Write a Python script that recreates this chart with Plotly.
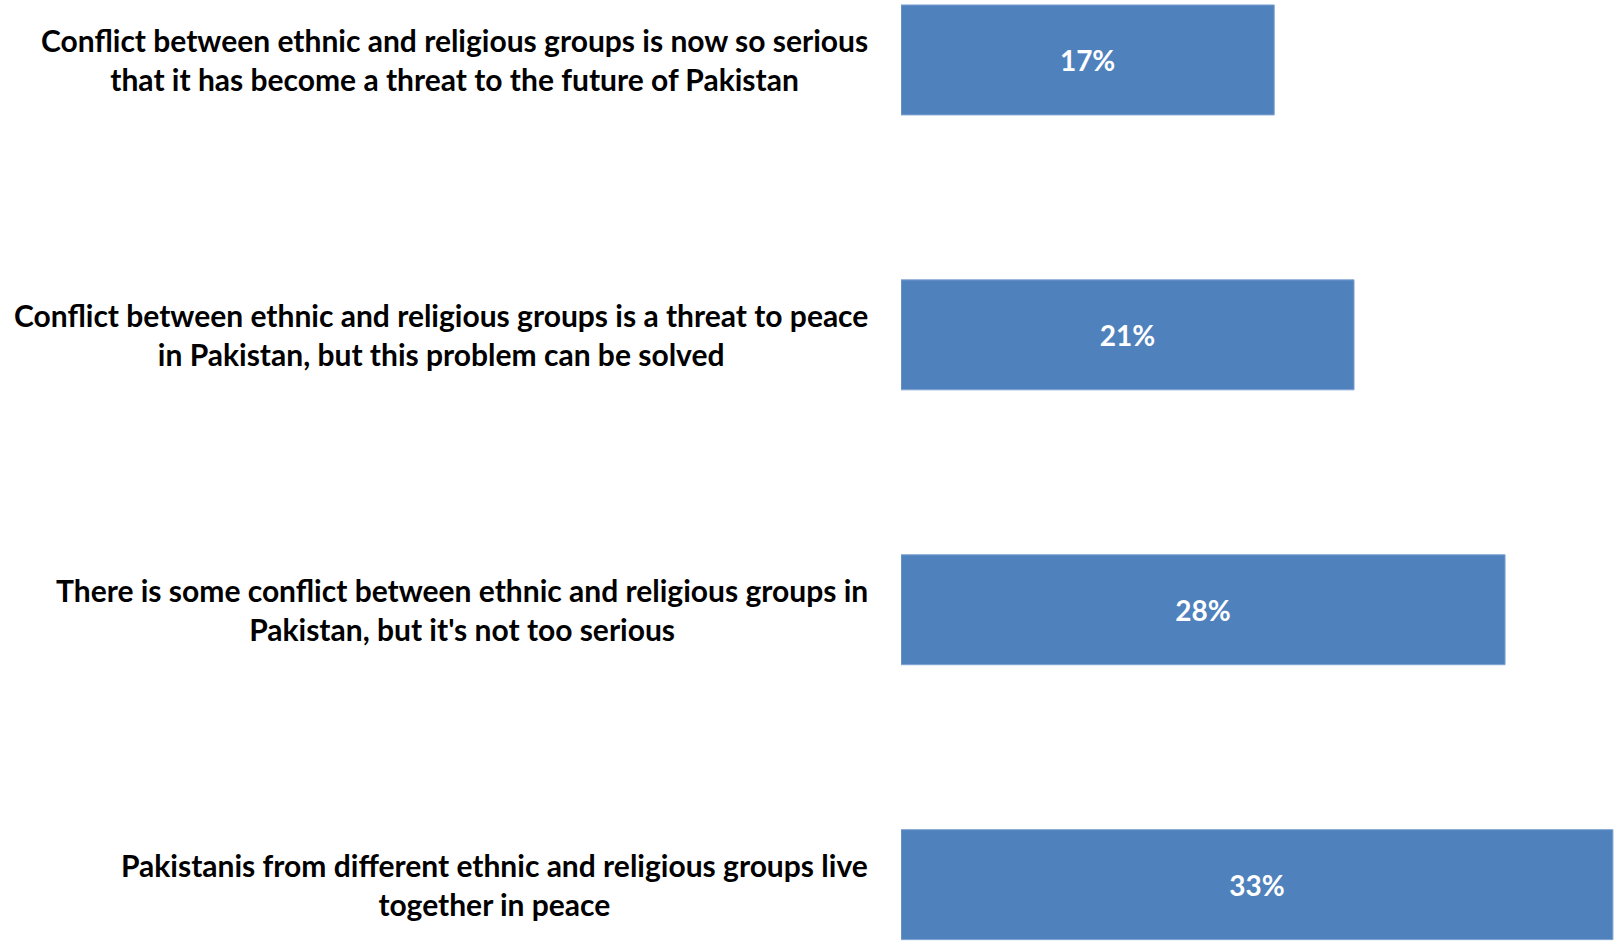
import plotly.graph_objects as go

categories = [
    "Conflict between ethnic and religious groups is now so serious<br>that it has become a threat to the future of Pakistan",
    "Conflict between ethnic and religious groups is a threat to peace<br>in Pakistan, but this problem can be solved",
    "There is some conflict between ethnic and religious groups in<br>Pakistan, but it's not too serious",
    "Pakistanis from different ethnic and religious groups live<br>together in peace",
]
values = [17.3, 21, 28, 33]
labels = ["17%", "21%", "28%", "33%"]

BAR_COLOR = "#4F81BD"
FONT = "Lato"

ids = [f"c{i}" for i in range(len(categories))]

fig = go.Figure(
    go.Bar(
        x=values,
        y=ids,
        orientation="h",
        marker=dict(color=BAR_COLOR, line=dict(color="#7FA3D3", width=1)),
        text=[f"<b>{t}</b>" for t in labels],
        textposition="inside",
        insidetextanchor="middle",
        textangle=0,
        constraintext="none",
        textfont=dict(family=FONT, size=28, color="white"),
        width=0.4,
        hoverinfo="skip",
    )
)

for cid, cat in zip(ids, categories):
    fig.add_annotation(
        xref="paper", x=0, xanchor="right", xshift=-31,
        yref="y", y=cid, yanchor="middle",
        text=f"<b>{cat}</b>", align="center", showarrow=False,
        font=dict(family=FONT, size=30, color="black"),
    )

fig.update_layout(
    width=1614, height=941,
    margin=dict(l=901, r=0, t=0, b=0),
    plot_bgcolor="white", paper_bgcolor="white",
    showlegend=False,
    xaxis=dict(range=[0, 33.05], showgrid=False, zeroline=False,
               showticklabels=False, showline=False, ticks=""),
    yaxis=dict(type="category", categoryorder="array", categoryarray=ids,
               range=[3.205, -0.218], showgrid=False, zeroline=False,
               showticklabels=False, showline=False, ticks=""),
)

fig.write_html(
    "out.html",
    config={"displayModeBar": False},
    post_script="document.body.style.margin='0';document.body.style.overflow='hidden';",
)
